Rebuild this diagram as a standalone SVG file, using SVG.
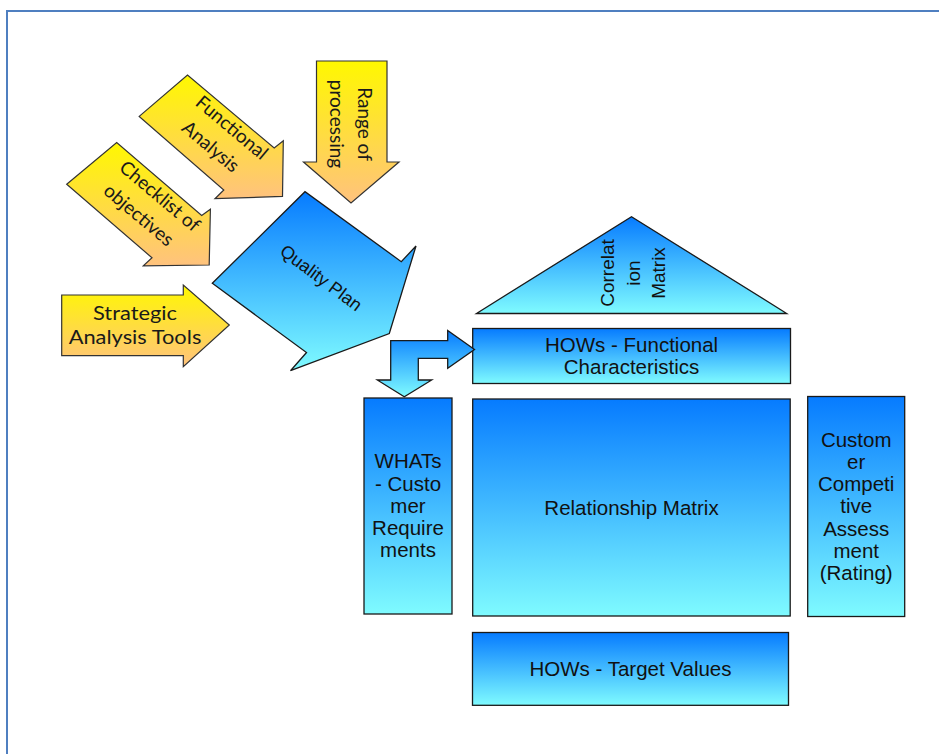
<svg xmlns="http://www.w3.org/2000/svg" width="939" height="754" viewBox="0 0 939 754">
  <defs>
    <linearGradient id="gYellow" x1="0" y1="0" x2="0" y2="1">
      <stop offset="0" stop-color="#FFF800"/>
      <stop offset="1" stop-color="#FFC27E"/>
    </linearGradient>
    <linearGradient id="gBlue" x1="0" y1="0" x2="0" y2="1">
      <stop offset="0" stop-color="#067BFF"/>
      <stop offset="1" stop-color="#7FFBFF"/>
    </linearGradient>
  </defs>
  <style>
    .y{fill:url(#gYellow);stroke:#333;stroke-width:1.2}
    .b{fill:url(#gBlue);stroke:#1a1a1a;stroke-width:1.3}
    .lt{font-family:Lato,"Open Sans","Liberation Sans",sans-serif;font-size:19px;fill:#1a1a1a;text-anchor:middle}
    .at{font-family:"Liberation Sans",Arial,sans-serif;font-size:20.5px;fill:#111;text-anchor:middle}
    .rt{font-family:"Liberation Sans",Arial,sans-serif;font-size:19px;fill:#111;text-anchor:middle}
  </style>

  <rect width="939" height="754" fill="#ffffff"/>
  <!-- page frame -->
  <path d="M7,754 V11 H939" fill="none" stroke="#4F7FC0" stroke-width="2"/>

  <!-- input arrows (yellow) -->
  <g id="range-of-processing">
    <polygon class="y" points="316.5,61 387,61 387,162 399,162 351,203 303.5,162 316.5,162"/>
    <text class="lt" transform="translate(358,124) rotate(90)">Range of</text>
    <text class="lt" transform="translate(330,124) rotate(90)">processing</text>
  </g>

  <g id="functional-analysis">
    <polygon class="y" points="139.2,116.4 187.5,75 274.2,148 283.3,140.7 282.5,196.4 215,198.7 223.8,190"/>
    <g transform="translate(221,137.5) rotate(40)">
      <text class="lt" x="2" y="-8">Functional</text>
      <text class="lt" x="-2" y="20">Analysis</text>
    </g>
  </g>

  <g id="checklist-of-objectives">
    <polygon class="y" points="66.7,184.2 116.7,142.5 201.7,215.5 210.4,209.3 209.2,265 143.3,265.8 152,257.8"/>
    <g transform="translate(149,206) rotate(40)">
      <text class="lt" x="2" y="-8">Checklist of</text>
      <text class="lt" x="-2" y="20">objectives</text>
    </g>
  </g>

  <g id="strategic-analysis-tools">
    <polygon class="y" points="61.7,295 183.3,295 183.3,285 229.3,325 183.3,366.7 183.3,355.7 61.7,355.7"/>
    <g transform="translate(135,0) scale(1.15,1)">
      <text class="lt" x="0" y="320">Strategic</text>
      <text class="lt" x="0" y="344">Analysis Tools</text>
    </g>
  </g>

  <!-- quality plan -->
  <g id="quality-plan">
    <polygon class="b" points="212.3,283.3 305,191.7 401.3,261.7 416,246 389.3,333.5 290.5,370.7 306.5,352.5"/>
    <text class="at" style="font-size:18px" transform="translate(321,278) rotate(37)" y="6">Quality Plan</text>
  </g>

  <!-- house of quality -->
  <g id="correlation-matrix">
    <polygon class="b" points="476.5,313.5 631.5,216.7 786.7,313.5"/>
    <text class="rt" transform="translate(614,273) rotate(-90)">Correlat</text>
    <text class="rt" transform="translate(640,273) rotate(-90)">ion</text>
    <text class="rt" transform="translate(665,273) rotate(-90)">Matrix</text>
  </g>

  <g id="hows-functional">
    <rect class="b" x="472.7" y="328.5" width="317.8" height="55"/>
    <text class="at" x="631.6" y="351.7">HOWs - Functional</text>
    <text class="at" x="631.6" y="373.5">Characteristics</text>
  </g>

  <g id="whats">
    <rect class="b" x="364" y="398" width="88" height="216"/>
    <text class="at" x="408" y="468.3">WHATs</text>
    <text class="at" x="408" y="490.5">- Custo</text>
    <text class="at" x="408" y="512.7">mer</text>
    <text class="at" x="408" y="534.9">Require</text>
    <text class="at" x="408" y="557.1">ments</text>
  </g>

  <g id="relationship-matrix">
    <rect class="b" x="472.7" y="399" width="317.5" height="217"/>
    <text class="at" x="631.5" y="514.5">Relationship Matrix</text>
  </g>

  <g id="competitive-assessment">
    <rect class="b" x="807.7" y="396.5" width="97" height="220"/>
    <text class="at" x="856.2" y="446.7">Custom</text>
    <text class="at" x="856.2" y="468.9">er</text>
    <text class="at" x="856.2" y="491.1">Competi</text>
    <text class="at" x="856.2" y="513.3">tive</text>
    <text class="at" x="856.2" y="535.5">Assess</text>
    <text class="at" x="856.2" y="557.7">ment</text>
    <text class="at" x="856.2" y="579.9">(Rating)</text>
  </g>

  <g id="hows-target">
    <rect class="b" x="472.5" y="632.5" width="316" height="72.8"/>
    <text class="at" x="630.5" y="675.5">HOWs - Target Values</text>
  </g>

  <!-- split arrow feeding the HOWs and WHATs -->
  <g id="connectors">
    <polygon class="b" points="390.7,380 377.3,380 404.3,396.7 431.7,380 418.3,380 418.3,358.3 447.7,358.3 447.7,368.3 474.5,349.5 447.7,330.5 447.7,340.7 390.7,340.7"/>
  </g>
</svg>
